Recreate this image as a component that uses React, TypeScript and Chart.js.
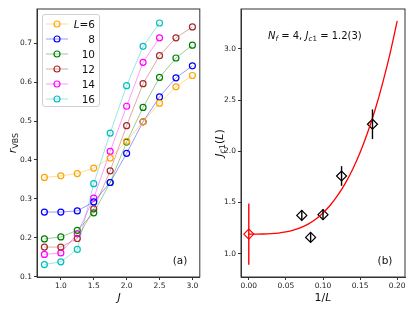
import React, { useEffect, useRef } from "react";
import { Chart, registerables } from "chart.js";

Chart.register(...registerables);

// ---------- Panel (a) data ----------
const J_VALUES = [0.75, 1.0, 1.25, 1.5, 1.75, 2.0, 2.25, 2.5, 2.75, 3.0];
const L_LABELS = ["6", "8", "10", "12", "14", "16"];
const R_L6 = [0.355, 0.359, 0.365, 0.379, 0.405, 0.448, 0.498, 0.546, 0.588, 0.617];
const R_L8 = [0.266, 0.266, 0.269, 0.292, 0.342, 0.417, 0.498, 0.562, 0.611, 0.642];
const R_L10 = [0.197, 0.202, 0.219, 0.264, 0.342, 0.446, 0.535, 0.612, 0.662, 0.695];
const R_L12 = [0.176, 0.176, 0.198, 0.274, 0.372, 0.488, 0.596, 0.668, 0.714, 0.742];
const R_L14 = [0.157, 0.161, 0.21, 0.302, 0.422, 0.538, 0.651, 0.714];
const R_L16 = [0.131, 0.138, 0.17, 0.339, 0.469, 0.591, 0.692, 0.752];
const SERIES_A = [R_L6, R_L8, R_L10, R_L12, R_L14, R_L16];
const COLORS_A = ["#ffa500", "#0000ff", "#008000", "#a52a2a", "#ff00ff", "#00bfbf"];
const X_TICKS_A = [1.0, 1.5, 2.0, 2.5, 3.0];
const Y_TICKS_A = [0.1, 0.2, 0.3, 0.4, 0.5, 0.6, 0.7];

// ---------- Panel (b) data ----------
const INV_L = [1 / 6, 1 / 8, 1 / 10, 1 / 12, 1 / 14];
const JC1 = [2.264, 1.758, 1.38, 1.158, 1.373];
const JC1_ERR = [0.145, 0.096, 0.052, 0.045, 0.05];
const JC_INF_X = [0];
const JC_INF = [1.19];
const JC_INF_ERR = [0.3];
const FIT_X = [0, 0.01, 0.02, 0.03, 0.04, 0.05, 0.06, 0.07, 0.08, 0.09, 0.1, 0.11, 0.12, 0.13, 0.14, 0.15, 0.16, 0.17, 0.18, 0.19, 0.2];
const FIT_Y = [1.19, 1.19, 1.191, 1.194, 1.2, 1.211, 1.228, 1.253, 1.288, 1.336, 1.397, 1.475, 1.57, 1.686, 1.824, 1.987, 2.18, 2.4, 2.656, 2.945, 3.273];
const X_TICKS_B = [0, 0.05, 0.1, 0.15, 0.2];
const Y_TICKS_B = [1.0, 1.5, 2.0, 2.5, 3.0];

const FONT = "'DejaVu Sans', sans-serif";
const AXIS_COLOR = "#333";

const framePlugin = {
  id: "frame",
  afterDraw(chart: any) {
    const { ctx, chartArea: a } = chart;
    ctx.save();
    ctx.strokeStyle = AXIS_COLOR;
    ctx.lineWidth = 1;
    ctx.strokeRect(a.left, a.top, a.right - a.left, a.bottom - a.top);
    ctx.restore();
  },
};

const errorBarPlugin = {
  id: "errbars",
  afterDatasetsDraw(chart: any) {
    const { ctx } = chart;
    const xs = chart.scales.x;
    const ys = chart.scales.y;
    chart.data.datasets.forEach((ds: any) => {
      if (!ds.errors) return;
      ds.data.forEach((p: any, j: number) => {
        const x = xs.getPixelForValue(p.x);
        const y1 = ys.getPixelForValue(p.y - ds.errors[j]);
        const y2 = ys.getPixelForValue(p.y + ds.errors[j]);
        ctx.save();
        ctx.beginPath();
        ctx.moveTo(x, y1);
        ctx.lineTo(x, y2);
        ctx.strokeStyle = ds.errColor;
        ctx.lineWidth = 1.4;
        ctx.stroke();
        ctx.restore();
      });
    });
  },
};

function hexAlpha(hex: string, a: number) {
  const r = parseInt(hex.slice(1, 3), 16);
  const g = parseInt(hex.slice(3, 5), 16);
  const b = parseInt(hex.slice(5, 7), 16);
  return `rgba(${r},${g},${b},${a})`;
}

function makeAxis(min: number, max: number, ticks: number[], digits: number, fitSize: number, horizontal: boolean) {
  return {
    type: "linear" as const,
    min,
    max,
    afterBuildTicks: (ax: any) => {
      ax.ticks = ticks.map((v) => ({ value: v }));
    },
    afterFit: (ax: any) => {
      if (horizontal) ax.height = fitSize;
      else ax.width = fitSize;
    },
    ticks: {
      callback: (v: any) => Number(v).toFixed(digits),
      font: { family: FONT, size: 7.5 },
      color: "#222",
      padding: 2,
      maxRotation: 0,
      autoSkip: false,
    },
    grid: { drawOnChartArea: false, drawTicks: true, tickLength: 3, color: AXIS_COLOR },
    border: { display: true, color: AXIS_COLOR, width: 1 },
  };
}

function ChartA() {
  const ref = useRef<HTMLCanvasElement>(null);
  useEffect(() => {
    const datasets = SERIES_A.map((vals, i) => ({
      label: "L=" + L_LABELS[i],
      data: vals.map((v, k) => ({ x: J_VALUES[k], y: v })),
      borderColor: hexAlpha(COLORS_A[i], 0.4),
      borderWidth: 1,
      pointBorderColor: COLORS_A[i],
      pointBackgroundColor: "rgba(0,0,0,0)",
      pointRadius: 3,
      pointBorderWidth: 1.2,
      pointStyle: "circle" as const,
      showLine: true,
      fill: false,
      tension: 0,
    }));
    const chart = new Chart(ref.current!, {
      type: "scatter",
      data: { datasets },
      options: {
        responsive: false,
        animation: false,
        layout: { padding: { left: 0, top: 9, right: 4, bottom: 0 } },
        plugins: { legend: { display: false }, tooltip: { enabled: false } },
        scales: {
          x: makeAxis(0.6375, 3.1125, X_TICKS_A, 1, 35, true),
          y: makeAxis(0.099, 0.788, Y_TICKS_A, 1, 37, false),
        },
      },
      plugins: [framePlugin],
    });
    return () => chart.destroy();
  }, []);
  return <canvas ref={ref} width={205} height={312} style={{ width: 205, height: 312, display: "block" }} />;
}

function ChartB() {
  const ref = useRef<HTMLCanvasElement>(null);
  useEffect(() => {
    const chart = new Chart(ref.current!, {
      type: "scatter",
      data: {
        datasets: [
          {
            label: "fit",
            data: FIT_X.map((x, k) => ({ x, y: FIT_Y[k] })),
            borderColor: "#ff0000",
            borderWidth: 1.3,
            pointRadius: 0,
            showLine: true,
            cubicInterpolationMode: "monotone",
            fill: false,
          } as any,
          {
            label: "Jc1(L)",
            data: INV_L.map((x, k) => ({ x, y: JC1[k] })),
            errors: JC1_ERR,
            errColor: "#000",
            pointStyle: "rectRot",
            pointRadius: 5,
            pointBorderWidth: 1.2,
            pointBorderColor: "#000",
            pointBackgroundColor: "rgba(0,0,0,0)",
            showLine: false,
          } as any,
          {
            label: "Jc1",
            data: JC_INF_X.map((x, k) => ({ x, y: JC_INF[k] })),
            errors: JC_INF_ERR,
            errColor: "#ff0000",
            pointStyle: "rectRot",
            pointRadius: 5,
            pointBorderWidth: 1.2,
            pointBorderColor: "#ff0000",
            pointBackgroundColor: "rgba(0,0,0,0)",
            showLine: false,
          } as any,
        ],
      },
      options: {
        responsive: false,
        animation: false,
        layout: { padding: { left: 0, top: 9, right: 10, bottom: 0 } },
        plugins: { legend: { display: false }, tooltip: { enabled: false } },
        scales: {
          x: makeAxis(-0.0105, 0.2105, X_TICKS_B, 2, 35, true),
          y: makeAxis(0.771, 3.39, Y_TICKS_B, 1, 36, false),
        },
      },
      plugins: [framePlugin, errorBarPlugin],
    });
    return () => chart.destroy();
  }, []);
  return <canvas ref={ref} width={210} height={312} style={{ width: 210, height: 312, display: "block" }} />;
}

const abs = (left: number, top: number, extra: any = {}) => ({
  position: "absolute" as const,
  left,
  top,
  fontFamily: FONT,
  color: "#111",
  whiteSpace: "nowrap" as const,
  lineHeight: 1,
  ...extra,
});

const subStyle = { fontSize: "0.72em", position: "relative" as const, top: "0.25em" };

function Legend() {
  const rowH = 15;
  return (
    <div
      style={{
        position: "absolute",
        left: 42,
        top: 14,
        width: 56,
        height: 91,
        border: "1px solid #d0d0d0",
        borderRadius: 3,
        background: "rgba(255,255,255,0.8)",
      }}
    >
      {L_LABELS.map((lab, i) => {
        const cy = 8.5 + i * rowH;
        return (
          <React.Fragment key={lab}>
            <svg style={{ position: "absolute", left: 2, top: cy - 5 }} width={24} height={10}>
              <line x1={1} y1={5} x2={23} y2={5} stroke={hexAlpha(COLORS_A[i], 0.4)} strokeWidth={1} />
              <circle cx={12} cy={5} r={3} fill="none" stroke={COLORS_A[i]} strokeWidth={1.2} />
            </svg>
            <div style={abs(0, cy, { width: 52, textAlign: "right", fontSize: 10.5, transform: "translateY(-50%)" })}>
              {i === 0 ? (
                <span>
                  <i>L</i>=6
                </span>
              ) : (
                lab
              )}
            </div>
          </React.Fragment>
        );
      })}
    </div>
  );
}

export default function App() {
  return (
    <div style={{ position: "fixed", left: 0, top: 0, width: 415, height: 312, background: "#fff", overflow: "hidden" }}>
      <div style={{ position: "absolute", left: 0, top: 0 }}>
        <ChartA />
      </div>
      <div style={{ position: "absolute", left: 205, top: 0 }}>
        <ChartB />
      </div>
      <Legend />
      {/* axis titles */}
      <div style={abs(12, 143, { fontSize: 11, transform: "translate(-50%,-50%) rotate(-90deg)" })}>
        <i>r</i>
        <span style={subStyle}>VBS</span>
      </div>
      <div style={abs(119, 297, { fontSize: 11, transform: "translate(-50%,-50%)" })}>
        <i>J</i>
      </div>
      <div style={abs(219, 143, { fontSize: 11, transform: "translate(-50%,-50%) rotate(-90deg)" })}>
        <i>J</i>
        <span style={subStyle}>
          <i>c</i>1
        </span>
        (<i>L</i>)
      </div>
      <div style={abs(323, 297, { fontSize: 11, transform: "translate(-50%,-50%)" })}>
        1/<i>L</i>
      </div>
      {/* annotations */}
      <div style={abs(268, 36, { fontSize: 10, transform: "translateY(-50%)" })}>
        <i>N</i>
        <span style={subStyle}>
          <i>f</i>
        </span>
        {" = 4, "}
        <i>J</i>
        <span style={subStyle}>
          <i>c</i>1
        </span>
        {" = 1.2(3)"}
      </div>
      <div style={abs(180, 260, { fontSize: 10.5, transform: "translate(-50%,-50%)" })}>(a)</div>
      <div style={abs(385, 260, { fontSize: 10.5, transform: "translate(-50%,-50%)" })}>(b)</div>
    </div>
  );
}
